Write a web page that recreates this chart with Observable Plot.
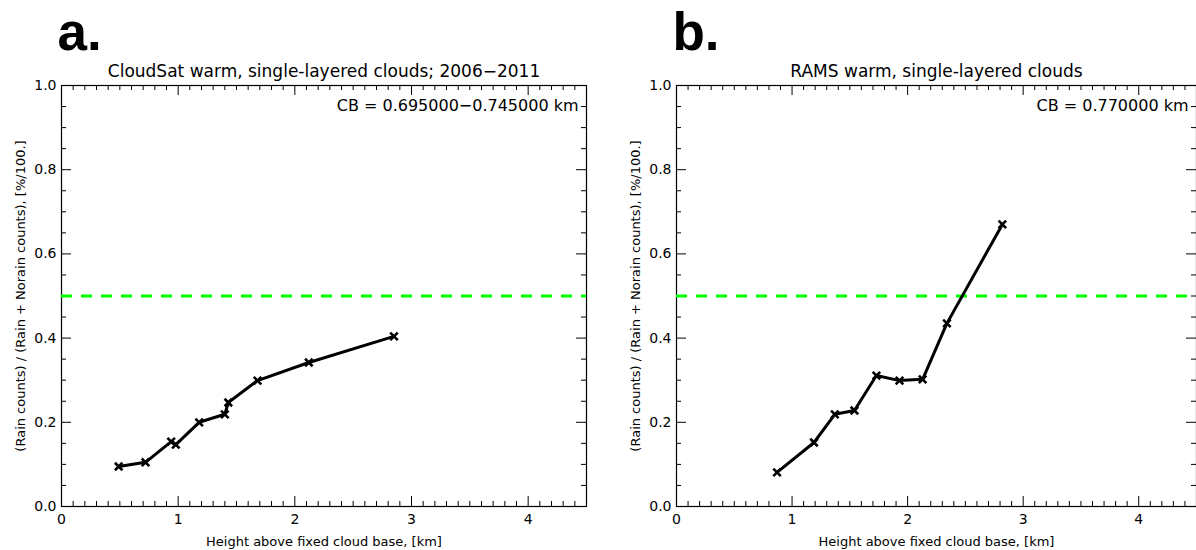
<!DOCTYPE html>
<html>
<head>
<meta charset="utf-8">
<script src="https://cdn.jsdelivr.net/npm/d3@7"></script>
<script src="https://cdn.jsdelivr.net/npm/@observablehq/plot@0.6"></script>
<style>
  html, body { margin: 0; padding: 0; background: #fff; }
  #wrap { position: relative; width: 1196px; height: 550px; overflow: hidden; }
  .panel { position: absolute; top: 0; }
  svg { overflow: visible; }
</style>
</head>
<body>
<div id="wrap">
  <div class="panel" id="pa" style="left:0px"></div>
  <div class="panel" id="pb" style="left:615px"></div>
</div>
<script>
// ---- data ----
const cloudsatHeight = [0.49, 0.72, 0.94, 0.98, 1.18, 1.40, 1.43, 1.68, 2.12, 2.85];
const cloudsatFrac   = [0.095, 0.105, 0.154, 0.147, 0.200, 0.219, 0.247, 0.299, 0.342, 0.404];
const ramsHeight = [0.87, 1.19, 1.37, 1.54, 1.73, 1.93, 2.13, 2.34, 2.82];
const ramsFrac   = [0.081, 0.152, 0.219, 0.228, 0.311, 0.299, 0.302, 0.435, 0.670];
const threshold = [0.5];
const xMajorTicks = [0, 1, 2, 3, 4];
const yMajorTicks = [0.0, 0.2, 0.4, 0.6, 0.8, 1.0];
const xMinorStep = 0.1;
const yMinorStep = 0.05;
const panelLetters = ["a.", "b."];
const panelTitles = ["CloudSat warm, single-layered clouds; 2006\u22122011", "RAMS warm, single-layered clouds"];
const cbLabels = ["CB = 0.695000\u22120.745000 km", "CB = 0.770000 km"];
const xLabel = "Height above fixed cloud base, [km]";
const yLabel = "(Rain counts) / (Rain + Norain counts), [%/100.]";

const xDomain = [0, 4.5];
const yDomain = [0, 1];
const xMinor = d3.range(0, 4.5 + 1e-9, xMinorStep).map(v => +v.toFixed(2)).filter(v => !xMajorTicks.some(m => Math.abs(m - v) < 1e-6));
const yMinor = d3.range(0, 1 + 1e-9, yMinorStep).map(v => +v.toFixed(2)).filter(v => !yMajorTicks.some(m => Math.abs(m - v) < 1e-6));

const FONT = "DejaVu Sans";

function panel(xs, ys, idx, width, marginRight) {
  const height = 550, marginTop = 85, marginBottom = 44, marginLeft = 61;
  const fh = height - marginTop - marginBottom;
  const fw = width - marginLeft - marginRight;
  const data = xs.map((x, i) => ({x, y: ys[i]}));
  const majLen = 10, minLen = 5;
  return Plot.plot({
    width, height, marginTop, marginBottom, marginLeft, marginRight,
    style: {fontFamily: FONT, color: "black", background: "white", overflow: "visible"},
    x: {domain: xDomain},
    y: {domain: yDomain},
    marks: [
      // inward ticks (IDL style)
      Plot.tickX(xMajorTicks, {x: d => d, insetTop: fh - majLen, stroke: "black", strokeWidth: 1}),
      Plot.tickX(xMinor, {x: d => d, insetTop: fh - minLen, stroke: "black", strokeWidth: 1}),
      Plot.tickX(xMajorTicks, {x: d => d, insetBottom: fh - majLen, stroke: "black", strokeWidth: 1}),
      Plot.tickX(xMinor, {x: d => d, insetBottom: fh - minLen, stroke: "black", strokeWidth: 1}),
      Plot.tickY(yMajorTicks, {y: d => d, insetRight: fw - majLen, stroke: "black", strokeWidth: 1}),
      Plot.tickY(yMinor, {y: d => d, insetRight: fw - minLen, stroke: "black", strokeWidth: 1}),
      Plot.tickY(yMajorTicks, {y: d => d, insetLeft: fw - majLen, stroke: "black", strokeWidth: 1}),
      Plot.tickY(yMinor, {y: d => d, insetLeft: fw - minLen, stroke: "black", strokeWidth: 1}),
      Plot.axisX({ticks: xMajorTicks, tickSize: 0, tickPadding: 8, tickFormat: d => String(d), fontSize: 14, label: null}),
      Plot.axisY({ticks: yMajorTicks, tickSize: 0, tickPadding: 5, tickFormat: d => d.toFixed(1), fontSize: 14, label: null}),
      Plot.frame({stroke: "black", strokeWidth: 1.2}),
      Plot.ruleY(threshold, {stroke: "#00ff00", strokeWidth: 3, strokeDasharray: "11,9"}),
      Plot.line(data, {x: "x", y: "y", stroke: "black", strokeWidth: 3}),
      Plot.dot(data, {x: "x", y: "y", symbol: "times", r: 3.5, stroke: "black", strokeWidth: 2.6}),
      Plot.text([cbLabels[idx]], {frameAnchor: "top-right", textAnchor: "end", lineAnchor: "bottom", dx: -8, dy: 25, fontSize: 16, fill: "black"}),
      Plot.text([panelTitles[idx]], {frameAnchor: "top", lineAnchor: "bottom", dy: -9, fontSize: 17, fill: "black"}),
      Plot.text([panelLetters[idx]], {frameAnchor: "top-left", textAnchor: "start", lineAnchor: "bottom", dx: -4, dy: -36, fontSize: 53, fontWeight: "bold", fontFamily: "Liberation Sans", fill: "black"}),
      Plot.text([xLabel], {frameAnchor: "bottom", lineAnchor: "bottom", dy: 39, fontSize: 13, fill: "black"}),
      Plot.text([yLabel], {frameAnchor: "left", textAnchor: "middle", lineAnchor: "middle", rotate: -90, dx: -41, fontSize: 13, fill: "black"})
    ]
  });
}

document.getElementById("pa").appendChild(panel(cloudsatHeight, cloudsatFrac, 0, 598, 12));
document.getElementById("pb").appendChild(panel(ramsHeight, ramsFrac, 1, 581, 0));
</script>
</body>
</html>
